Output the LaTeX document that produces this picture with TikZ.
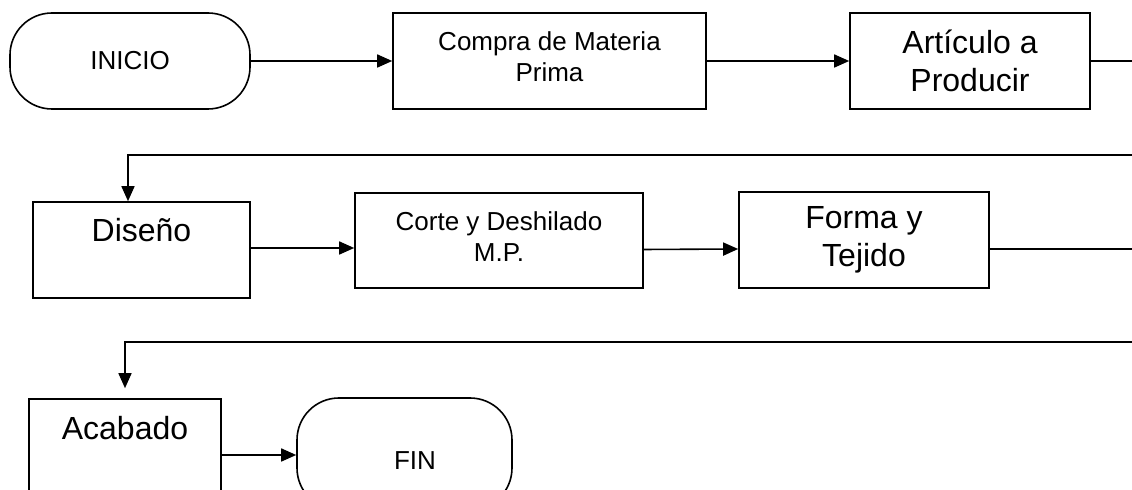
\documentclass[tikz,border=0pt]{standalone}
\usepackage{fontspec}
\setmainfont{Liberation Sans}
\usetikzlibrary{arrows.meta, positioning}

\begin{document}
\begin{tikzpicture}[x=0.5pt, y=-0.5pt,
		caja/.style={draw, rectangle, line width=0.8pt, inner sep=0pt, align=center},
		terminal/.style={caja, rounded corners=21pt},
		texto/.style={inner sep=0pt, align=center},
		chico/.style={font=\fontsize{13}{15.5}\selectfont},
		grande/.style={font=\fontsize{16}{19}\selectfont},
		linea/.style={line width=0.8pt},
		flecha/.style={line width=0.8pt, -{Triangle[length=7.5pt, width=6.5pt]}}]
			\useasboundingbox (0,0) rectangle (1132,490);
			\clip (0,0) rectangle (1132,490);
			
			\node[terminal, chico, minimum width=120pt, minimum height=48pt] (inicio) at (130,61) {INICIO};
			\node[caja, minimum width=156.5pt, minimum height=48pt] (compra) at (549.5,61) {};
			\node[texto, chico, anchor=north] (tcompra) at ([yshift=-9.5pt]compra.north) {Compra de Materia\\Prima};
			\node[caja, grande, minimum width=120pt, minimum height=48pt] (articulo) at (970,61) {Artículo a\\Producir};
			
			\node[caja, minimum width=108.5pt, minimum height=48pt] (diseno) at (141.5,250) {};
			\node[texto, grande, anchor=north] (tdiseno) at ([yshift=-8.5pt]diseno.north) {Diseño};
			\node[caja, minimum width=144pt, minimum height=47.5pt] (corte) at (499,240.5) {};
			\node[texto, chico, anchor=north] (tcorte) at ([yshift=-9.5pt]corte.north) {Corte y Deshilado\\M.P.};
			\node[caja, grande, minimum width=125pt, minimum height=48pt] (forma) at (864,240) {Forma y\\Tejido};
			
			\node[caja, minimum width=96pt, minimum height=56pt] (acabado) at (125,455) {};
			\node[texto, grande, anchor=north] (tacabado) at ([yshift=-9pt]acabado.north) {Acabado};
			\node[terminal, minimum width=107.5pt, minimum height=56pt] (fin) at (404.5,454) {};
			\node[texto, chico] (tfin) at ([xshift=5.25pt, yshift=-3.5pt]fin.center) {FIN};
			
			\coordinate (sal1) at (1140,61);
			\coordinate (ret1) at (1140,155);
			\coordinate (sal2) at (1140,249);
			\coordinate (ret2) at (1140,342);
			
			\draw[flecha] (inicio) -- (compra);
			\draw[flecha] (compra) -- (articulo);
			\draw[linea] (articulo.east) -- (sal1);
			\draw[flecha] (ret1) -| ([xshift=-6.75pt]diseno.north);
			\draw[flecha] ([yshift=1pt]diseno.east) -- ([yshift=1pt]diseno.east -| corte.west);
			\draw[flecha] ([yshift=-4.5pt]corte.east) -- ([yshift=-4.5pt]forma.west);
			\draw[linea] ([yshift=-4.5pt]forma.east) -- (sal2);
			\draw[flecha, shorten >=5pt] (ret2) -| (acabado.north);
			\draw[flecha] (acabado.east) -- (acabado.east -| fin.west);
		\end{tikzpicture}
\end{document}
